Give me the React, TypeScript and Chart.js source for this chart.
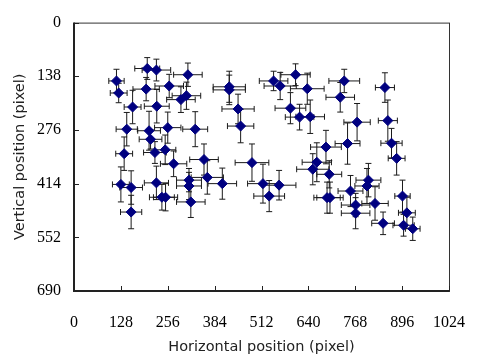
import React, { useEffect, useRef } from "react";
import { Chart, registerables } from "chart.js";

Chart.register(...registerables);

const xValues = [200, 225, 311, 116, 122, 197, 260, 307, 292, 160, 226, 144, 205, 256, 331, 209, 137, 221, 249, 355, 272, 424, 424, 545, 563, 605, 637, 738, 727, 448, 455, 591, 616, 645, 688, 663, 486, 849, 773, 857, 747, 867, 881, 128, 156, 225, 314, 314, 364, 405, 240, 250, 319, 156, 516, 560, 533, 652, 697, 691, 699, 804, 800, 755, 769, 769, 822, 844, 897, 909, 900, 925];
const yValues = [118, 122, 134, 150, 181, 171, 163, 188, 198, 217, 215, 274, 278, 270, 274, 300, 337, 334, 327, 352, 363, 165, 173, 150, 163, 134, 170, 150, 192, 222, 266, 220, 243, 242, 320, 359, 360, 167, 256, 252, 311, 310, 349, 416, 424, 412, 405, 420, 398, 414, 449, 449, 461, 487, 414, 418, 446, 377, 390, 450, 450, 405, 420, 433, 469, 490, 465, 516, 446, 489, 521, 530];
const xErrors = [34, 39, 39, 21, 23, 36, 39, 39, 39, 23, 34, 29, 31, 36, 34, 31, 23, 31, 29, 39, 36, 44, 44, 39, 44, 40, 46, 42, 39, 44, 36, 42, 39, 39, 42, 40, 46, 26, 36, 26, 34, 29, 23, 23, 31, 33, 34, 34, 44, 39, 34, 33, 39, 29, 42, 46, 42, 44, 34, 36, 36, 34, 33, 34, 39, 39, 36, 31, 21, 23, 29, 20];
const yErrors = [28, 28, 30, 30, 25, 30, 30, 35, 33, 43, 43, 43, 50, 40, 45, 25, 43, 28, 38, 40, 33, 40, 38, 25, 35, 28, 40, 30, 38, 38, 43, 40, 33, 43, 43, 50, 48, 38, 48, 53, 53, 38, 43, 45, 43, 43, 30, 35, 43, 40, 33, 35, 40, 43, 50, 38, 40, 40, 35, 40, 40, 43, 45, 40, 30, 40, 43, 29, 41, 40, 28, 30];

const xTicks = [0, 128, 256, 384, 512, 640, 768, 896, 1024];
const yTicks = [0, 138, 276, 414, 552, 690];

const xTitle = "Horizontal position (pixel)";
const yTitle = "Vertical position (pixel)";

const errorBarPlugin = {
  id: "errorBars",
  beforeDatasetsDraw(chart: any) {
    const { ctx, scales } = chart;
    const xs = scales.x;
    const ys = scales.y;
    ctx.save();
    ctx.strokeStyle = "#1a1a1a";
    ctx.lineWidth = 1;
    const cap = 3;
    for (let i = 0; i < xValues.length; i++) {
      const px = xs.getPixelForValue(xValues[i]);
      const py = ys.getPixelForValue(yValues[i]);
      const x1 = xs.getPixelForValue(xValues[i] - xErrors[i]);
      const x2 = xs.getPixelForValue(xValues[i] + xErrors[i]);
      const y1 = ys.getPixelForValue(yValues[i] - yErrors[i]);
      const y2 = ys.getPixelForValue(yValues[i] + yErrors[i]);
      ctx.beginPath();
      ctx.moveTo(x1, py);
      ctx.lineTo(x2, py);
      ctx.moveTo(x1, py - cap);
      ctx.lineTo(x1, py + cap);
      ctx.moveTo(x2, py - cap);
      ctx.lineTo(x2, py + cap);
      ctx.moveTo(px, y1);
      ctx.lineTo(px, y2);
      ctx.moveTo(px - cap, y1);
      ctx.lineTo(px + cap, y1);
      ctx.moveTo(px - cap, y2);
      ctx.lineTo(px + cap, y2);
      ctx.stroke();
    }
    ctx.restore();
  },
};

const framePlugin = {
  id: "frame",
  afterDraw(chart: any) {
    const { ctx, chartArea, scales } = chart;
    const { left, right, top, bottom } = chartArea;
    ctx.save();
    ctx.strokeStyle = "#333";
    ctx.lineWidth = 1;
    ctx.strokeRect(left + 0.5, top + 0.5, right - left, bottom - top);
    ctx.strokeStyle = "#222";
    ctx.lineWidth = 2;
    ctx.beginPath();
    ctx.moveTo(left, top);
    ctx.lineTo(left, bottom);
    ctx.lineTo(right, bottom);
    ctx.stroke();
    ctx.lineWidth = 1;
    ctx.beginPath();
    for (const v of xTicks) {
      const x = Math.round(scales.x.getPixelForValue(v)) + 0.5;
      ctx.moveTo(x, bottom);
      ctx.lineTo(x, bottom - 5);
    }
    for (const v of yTicks) {
      const y = Math.round(scales.y.getPixelForValue(v)) + 0.5;
      ctx.moveTo(left, y);
      ctx.lineTo(left + 5, y);
    }
    ctx.stroke();
    ctx.restore();
  },
};

export default function App() {
  const ref = useRef<HTMLCanvasElement>(null);
  useEffect(() => {
    const points = xValues.map((x, i) => ({ x, y: yValues[i] }));
    const chart = new Chart(ref.current as HTMLCanvasElement, {
      type: "scatter",
      data: {
        datasets: [
          {
            data: points,
            pointStyle: "rectRot",
            pointRadius: 5,
            pointBackgroundColor: "#000080",
            pointBorderColor: "#000080",
            pointBorderWidth: 1,
          },
        ],
      },
      options: {
        animation: false,
        responsive: false,
        layout: { padding: { left: 0, top: 17, right: 20, bottom: 0 } },
        plugins: { legend: { display: false }, tooltip: { enabled: false } },
        scales: {
          x: {
            type: "linear",
            min: 0,
            max: 1024,
            afterBuildTicks: (scale: any) => {
              scale.ticks = xTicks.map((v) => ({ value: v }));
            },
            afterFit: (scale: any) => {
              scale.height = 65;
            },
            grid: { display: false, drawTicks: false },
            border: { display: false },
            ticks: {
              padding: 22,
              color: "#000",
              font: { family: "'Liberation Serif', serif", size: 16 },
              maxRotation: 0,
              callback: (v: any) => String(v),
            },
            title: {
              display: true,
              text: xTitle,
              color: "#222",
              font: { family: "'DejaVu Sans', sans-serif", size: 14.5 },
              padding: { top: 0, bottom: 0 },
            },
          },
          y: {
            type: "linear",
            reverse: true,
            min: 0,
            max: 690,
            afterBuildTicks: (scale: any) => {
              scale.ticks = yTicks.map((v) => ({ value: v }));
            },
            afterFit: (scale: any) => {
              scale.width = 74;
            },
            grid: { display: false, drawTicks: false },
            border: { display: false },
            ticks: {
              padding: 13,
              color: "#000",
              font: { family: "'Liberation Serif', serif", size: 16 },
              callback: (v: any) => String(v),
            },
            title: {
              display: true,
              text: yTitle,
              color: "#222",
              font: { family: "'DejaVu Sans', sans-serif", size: 14.5 },
              padding: { top: 12, bottom: 0 },
            },
          },
        },
      },
      plugins: [errorBarPlugin, framePlugin],
    });
    return () => chart.destroy();
  }, []);
  return (
    <div style={{ position: "fixed", left: 0, top: 0, width: 487, height: 356, background: "#fff" }}>
      <canvas ref={ref} width={487} height={356} />
    </div>
  );
}
